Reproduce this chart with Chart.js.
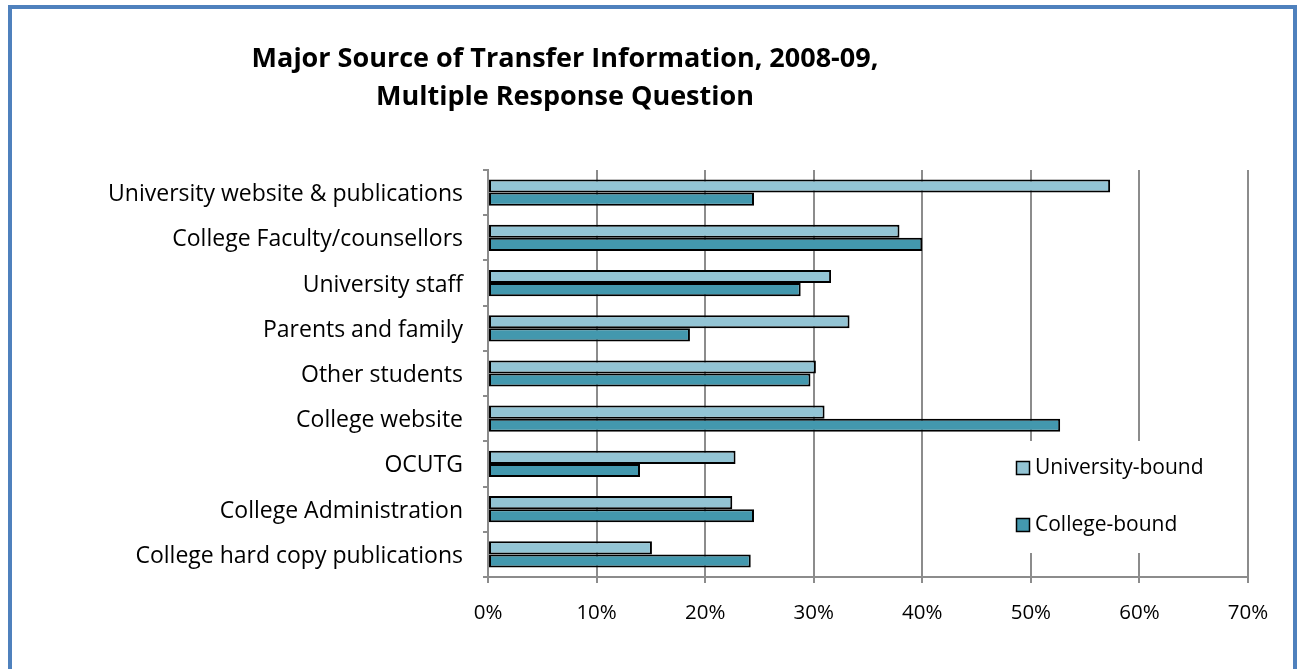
<!DOCTYPE html>
<html>
<head>
<meta charset="utf-8">
<script src="https://cdn.jsdelivr.net/npm/chart.js@4/dist/chart.umd.min.js"></script>
<style>
    html, body { margin: 0; padding: 0; background: #fff; overflow: hidden; }
    #wrap { position: relative; width: 1297px; height: 669px; }
    #frame {
        position: absolute; left: 8px; top: 5px; width: 1281px; height: 700px;
        border: 4px solid #4f81bd; pointer-events: none;
    }
    canvas { position: absolute; left: 0; top: 0; }
</style>
</head>
<body>
<div id="wrap">
    <canvas id="transferChart" width="1297" height="669"></canvas>
    <div id="frame"></div>
</div>
<script>
const titleLines = ['Major Source of Transfer Information, 2008-09,', 'Multiple Response Question'];
const categories = [
    'University website & publications',
    'College Faculty/counsellors',
    'University staff',
    'Parents and family',
    'Other students',
    'College website',
    'OCUTG',
    'College Administration',
    'College hard copy publications'
];
const universityBound = [57.3, 37.9, 31.6, 33.3, 30.2, 31.0, 22.8, 22.5, 15.1];
const collegeBound = [24.5, 40.0, 28.8, 18.6, 29.7, 52.7, 14.0, 24.5, 24.2];
const seriesNames = ['University-bound', 'College-bound'];
const tickValues = [0, 10, 20, 30, 40, 50, 60, 70];

const fontFamily = '"Open Sans", "Noto Sans", sans-serif';

// title sits left of the canvas centre, so draw it ourselves
const titlePlugin = {
    id: 'sideTitle',
    afterDraw(chart) {
        const ctx = chart.ctx;
        ctx.save();
        ctx.fillStyle = '#000';
        ctx.font = 'bold 27px ' + fontFamily;
        ctx.textAlign = 'center';
        ctx.textBaseline = 'middle';
        titleLines.forEach((line, i) => ctx.fillText(line, 565, 59 + i * 38));
        ctx.restore();
    }
};

// legend box inside the plot, white background over the gridlines
const boxLegend = {
    id: 'boxLegend',
    afterDatasetsDraw(chart) {
        const ctx = chart.ctx;
        ctx.save();
        ctx.fillStyle = '#fff';
        ctx.fillRect(1005, 441, 212, 112);
        chart.data.datasets.forEach((ds, i) => {
            const y = 468 + i * 57;
            ctx.fillStyle = ds.backgroundColor;
            ctx.fillRect(1016.5, y - 6.5, 13, 13);
            ctx.strokeStyle = '#000';
            ctx.lineWidth = 1.5;
            ctx.strokeRect(1016.5, y - 6.5, 13, 13);
            ctx.fillStyle = '#000';
            ctx.font = '21px ' + fontFamily;
            ctx.textAlign = 'left';
            ctx.textBaseline = 'middle';
            ctx.fillText(ds.label, 1035, y);
        });
        ctx.restore();
    }
};

const ctx = document.getElementById('transferChart').getContext('2d');
const transferChart = new Chart(ctx, {
    type: 'bar',
    data: {
        labels: categories,
        datasets: [{
            label: seriesNames[0],
            data: universityBound,
            backgroundColor: '#93c4d4',
            borderColor: '#000',
            borderWidth: 2,
            borderSkipped: false
        }, {
            label: seriesNames[1],
            data: collegeBound,
            backgroundColor: '#4398ae',
            borderColor: '#000',
            borderWidth: 2,
            borderSkipped: false
        }]
    },
    options: {
        indexAxis: 'y',
        responsive: false,
        animation: false,
        categoryPercentage: 0.58,
        barPercentage: 1.0,
        layout: { padding: { left: 0, top: 170, right: 49, bottom: 0 } },
        plugins: {
            legend: { display: false },
            title: { display: false },
            tooltip: { enabled: false }
        },
        scales: {
            x: {
                min: 0,
                max: 70,
                afterBuildTicks: axis => { axis.ticks = tickValues.map(v => ({ value: v })); },
                afterFit: axis => { axis.height = 92; },
                ticks: {
                    callback: value => value + '%',
                    color: '#000',
                    font: { family: fontFamily, size: 20.5 },
                    padding: 18,
                    maxRotation: 0
                },
                grid: { color: '#8c8c8c', lineWidth: 2, tickLength: 6 },
                border: { color: '#8c8c8c', width: 2 }
            },
            y: {
                afterFit: axis => { axis.width = 488; },
                ticks: {
                    color: '#000',
                    font: { family: fontFamily, size: 23 },
                    padding: 20,
                    labelOffset: 2
                },
                grid: { drawOnChartArea: false, color: '#8c8c8c', lineWidth: 2, tickLength: 5 },
                border: { color: '#8c8c8c', width: 2 }
            }
        }
    },
    plugins: [titlePlugin, boxLegend]
});
</script>
</body>
</html>
